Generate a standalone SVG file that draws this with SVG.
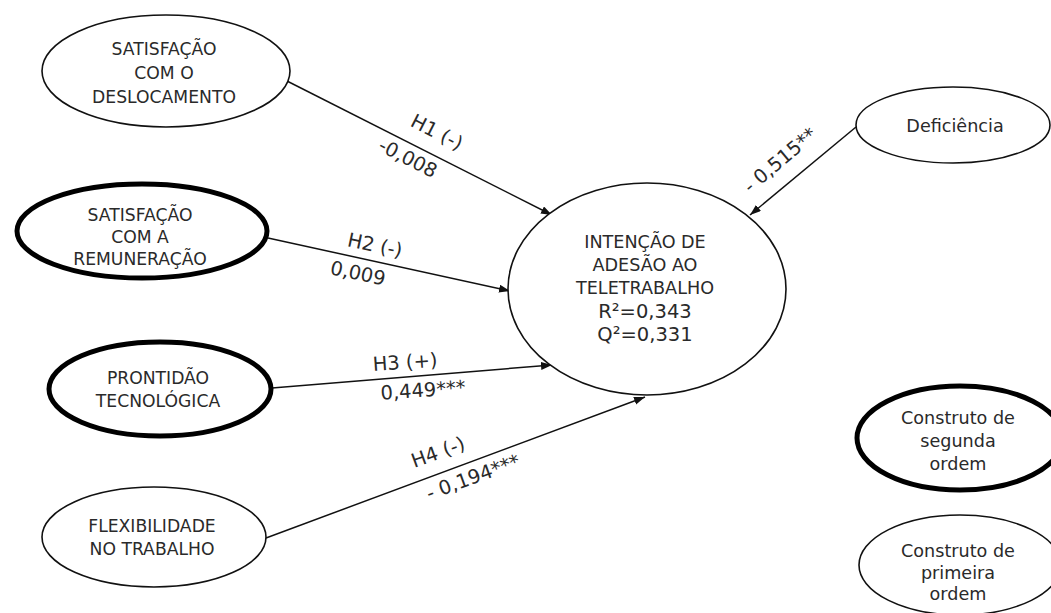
<svg xmlns="http://www.w3.org/2000/svg" width="1051" height="613" viewBox="0 0 1051 613">
<style>
.thin{fill:#fff;stroke:#111;stroke-width:1.6}
.thick{fill:#fff;stroke:#000;stroke-width:5}
.t{font-family:"DejaVu Sans",Verdana,sans-serif;font-size:17.2px;fill:#2a2a2a;text-anchor:middle}
.c{font-size:17.6px}
.rq{font-size:19.5px}
.l{font-family:"DejaVu Sans",Verdana,sans-serif;font-size:19.5px;fill:#2a2a2a;text-anchor:middle}
.e{stroke:#111;stroke-width:1.5;fill:none;marker-end:url(#ah)}
</style>
<defs>
<marker id="ah" markerUnits="userSpaceOnUse" markerWidth="12" markerHeight="9" refX="11" refY="4" orient="auto">
<path d="M0,0 L11,4 L0,8 z" fill="#111"/>
</marker>
</defs>
<rect width="1051" height="613" fill="#fff"/>
<g id="connectors">
<line class="e" x1="285" y1="80" x2="552" y2="215"/>
<line class="e" x1="268" y1="238" x2="510" y2="291"/>
<line class="e" x1="272" y1="388" x2="552" y2="365"/>
<line class="e" x1="266" y1="538" x2="645" y2="397"/>
<line class="e" x1="856" y1="127" x2="750" y2="215"/>
<text class="l" transform="translate(437,132) rotate(27)" dy="0.35em">H1 (-)</text>
<text class="l" transform="translate(408,158) rotate(27)" dy="0.35em">-0,008</text>
<text class="l" transform="translate(375,245) rotate(12)" dy="0.35em">H2 (-)</text>
<text class="l" transform="translate(358,273) rotate(12)" dy="0.35em">0,009</text>
<text class="l" transform="translate(405,362) rotate(-4)" dy="0.35em">H3 (+)</text>
<text class="l" transform="translate(423,390) rotate(-4)" dy="0.35em">0,449***</text>
<text class="l" transform="translate(438,452) rotate(-20)" dy="0.35em">H4 (-)</text>
<text class="l" transform="translate(473,477) rotate(-20)" dy="0.35em">- 0,194***</text>
<text class="l" transform="translate(780,160) rotate(-40)" dy="0.35em">- 0,515**</text>
</g>
<g id="n1">
<ellipse class="thin" cx="166" cy="71" rx="124" ry="56"/>
<text class="t" x="164" y="55">SATISFAÇÃO</text>
<text class="t" x="164" y="79">COM O</text>
<text class="t" x="164" y="103">DESLOCAMENTO</text>
</g>
<g id="n2">
<ellipse class="thick" cx="142" cy="231" rx="125" ry="47"/>
<text class="t" x="140" y="221">SATISFAÇÃO</text>
<text class="t" x="140" y="243">COM A</text>
<text class="t" x="140" y="265">REMUNERAÇÃO</text>
</g>
<g id="n3">
<ellipse class="thick" cx="160" cy="389" rx="111" ry="47"/>
<text class="t" x="158" y="384">PRONTIDÃO</text>
<text class="t" x="158" y="407">TECNOLÓGICA</text>
</g>
<g id="n4">
<ellipse class="thin" cx="154" cy="537" rx="112" ry="50"/>
<text class="t" x="152" y="532">FLEXIBILIDADE</text>
<text class="t" x="152" y="555">NO TRABALHO</text>
</g>
<g id="n5">
<ellipse class="thin" cx="647" cy="289" rx="139" ry="106"/>
<text class="t c" x="645" y="248">INTENÇÃO DE</text>
<text class="t c" x="645" y="271">ADESÃO AO</text>
<text class="t c" x="645" y="294">TELETRABALHO</text>
<text class="t rq" x="645" y="318">R²=0,343</text>
<text class="t rq" x="645" y="341">Q²=0,331</text>
</g>
<g id="n6">
<ellipse class="thin" cx="953" cy="125" rx="97" ry="38"/>
<text class="t c" x="955" y="132">Deficiência</text>
</g>
<g id="legend-second">
<ellipse class="thick" cx="960" cy="438" rx="103" ry="52"/>
<text class="t c" x="958" y="424">Construto de</text>
<text class="t c" x="958" y="447">segunda</text>
<text class="t c" x="958" y="470">ordem</text>
</g>
<g id="legend-first">
<ellipse class="thin" cx="960" cy="565" rx="101" ry="50"/>
<text class="t c" x="958" y="557">Construto de</text>
<text class="t c" x="958" y="579">primeira</text>
<text class="t c" x="958" y="600">ordem</text>
</g>
</svg>
